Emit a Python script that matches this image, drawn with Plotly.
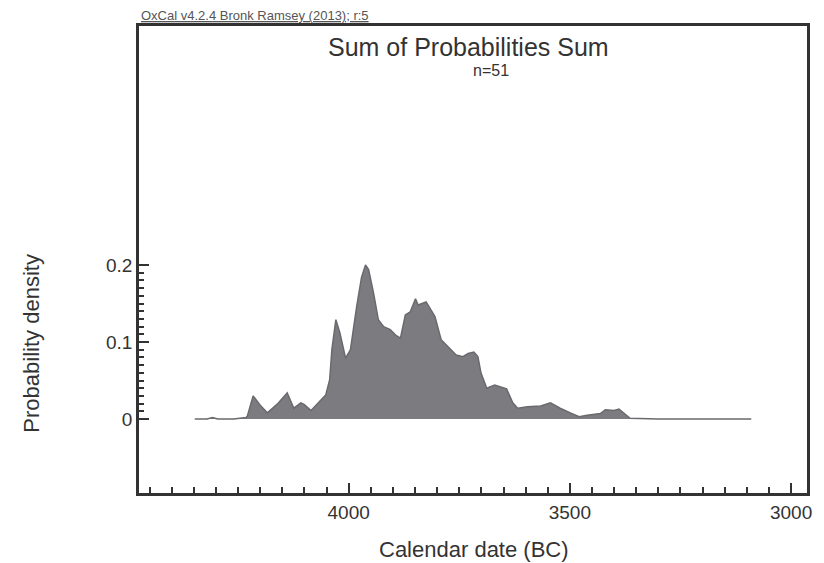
import plotly.graph_objects as go

# Calendar years (BC) and summed probability density
years = [4348, 4320, 4308, 4296, 4260, 4240, 4232, 4229, 4216, 4200, 4184, 4160,
         4139, 4124, 4108, 4101, 4085, 4067, 4052, 4043, 4038, 4029, 4020, 4007,
         3996, 3982, 3971, 3962, 3955, 3944, 3933, 3921, 3906, 3894, 3883, 3872,
         3861, 3849, 3843, 3825, 3805, 3791, 3775, 3757, 3742, 3730, 3717, 3708,
         3701, 3688, 3670, 3656, 3643, 3629, 3618, 3596, 3566, 3544, 3522, 3499,
         3479, 3461, 3431, 3420, 3400, 3389, 3378, 3364, 3300, 3200, 3090]
density = [0.000, 0.000, 0.002, 0.000, 0.000, 0.001, 0.002, 0.004, 0.030, 0.018, 0.008, 0.020,
           0.034, 0.014, 0.021, 0.019, 0.011, 0.022, 0.031, 0.051, 0.090, 0.129, 0.112, 0.079,
           0.090, 0.146, 0.184, 0.200, 0.194, 0.164, 0.129, 0.120, 0.116, 0.109, 0.105, 0.135,
           0.139, 0.156, 0.148, 0.152, 0.133, 0.103, 0.094, 0.083, 0.081, 0.085, 0.087, 0.081,
           0.060, 0.040, 0.044, 0.041, 0.039, 0.021, 0.014, 0.016, 0.017, 0.021, 0.014, 0.008,
           0.003, 0.005, 0.007, 0.012, 0.011, 0.013, 0.008, 0.001, 0.000, 0.000, 0.000]

x_ticks = [4000, 3500, 3000]
x_minor = list(range(4450, 2999, -50))
y_ticks = [0, 0.1, 0.2]
y_tick_labels = ["0", "0.1", "0.2"]
y_minor = [round(i * 0.01, 2) for i in range(21)]

title_text = "Sum of Probabilities Sum"
subtitle_text = "n=51"
credit_text = "OxCal v4.2.4 Bronk Ramsey (2013); r:5"
x_title = "Calendar date (BC)"
y_title = "Probability density"

X_RANGE = [4474, 2964]
Y_RANGE = [-0.0961, 0.5104]
FONT = "Liberation Sans, Arial, sans-serif"
INK = "#333333"

fig = go.Figure()
fig.add_trace(go.Scatter(
    x=years, y=density, mode="lines", fill="tozeroy",
    fillcolor="#7b7b80", line=dict(color="#6a6a6e", width=1.5),
    hoverinfo="skip", showlegend=False,
))
# invisible helper trace so the overlay axes (minor ticks) are drawn
fig.add_trace(go.Scatter(x=[X_RANGE[0]], y=[0], xaxis="x2", yaxis="y2",
                         mode="markers", marker=dict(opacity=0),
                         hoverinfo="skip", showlegend=False))

tick_font = dict(family=FONT, size=19, color=INK)

fig.update_layout(
    width=824, height=563,
    margin=dict(l=139, r=13, t=26, b=70),
    paper_bgcolor="white", plot_bgcolor="white",
    font=dict(family=FONT, color=INK),
    showlegend=False,
    xaxis=dict(
        range=X_RANGE, showgrid=False, zeroline=False,
        showline=True, mirror=True, linecolor=INK, linewidth=2.5,
        tickmode="array", tickvals=x_ticks, ticktext=[str(v) for v in x_ticks],
        ticks="inside", ticklen=10, tickwidth=1.5, tickcolor=INK,
        tickfont=tick_font,
    ),
    yaxis=dict(
        range=Y_RANGE, showgrid=False, zeroline=False,
        showline=True, mirror=True, linecolor=INK, linewidth=2.5,
        tickmode="array", tickvals=y_ticks, ticktext=y_tick_labels,
        ticks="inside", ticklen=10, tickwidth=1.5, tickcolor=INK,
        tickfont=tick_font,
    ),
    xaxis2=dict(
        range=X_RANGE, overlaying="x", side="bottom", anchor="y",
        showgrid=False, zeroline=False, showline=False,
        tickmode="array", tickvals=x_minor, showticklabels=False,
        ticks="inside", ticklen=6, tickwidth=1.5, tickcolor=INK,
    ),
    yaxis2=dict(
        range=Y_RANGE, overlaying="y", side="left", anchor="x",
        showgrid=False, zeroline=False, showline=False,
        tickmode="array", tickvals=y_minor, showticklabels=False,
        ticks="inside", ticklen=5, tickwidth=1.5, tickcolor=INK,
    ),
    annotations=[
        dict(text=title_text, x=(470 - 139) / 672, y=(493 - 47) / 467,
             xref="paper", yref="paper", xanchor="center", yanchor="middle",
             showarrow=False, font=dict(size=25, color=INK)),
        dict(text=subtitle_text, x=(493 - 139) / 672, y=(493 - 71) / 467,
             xref="paper", yref="paper", xanchor="center", yanchor="middle",
             showarrow=False, font=dict(size=16, color=INK)),
        dict(text="<u>" + credit_text + "</u>", x=0.0, y=1.0, xref="paper", yref="paper",
             xanchor="left", yanchor="bottom", yshift=1, showarrow=False,
             font=dict(size=13, color="#555555")),
        dict(text=y_title, x=(30 - 139) / 672, y=(493 - 343) / 467,
             xref="paper", yref="paper", xanchor="center", yanchor="middle",
             showarrow=False, textangle=-90, font=dict(size=22, color=INK)),
        dict(text=x_title, x=(476 - 139) / 672, y=(493 - 549) / 467,
             xref="paper", yref="paper", xanchor="center", yanchor="middle",
             showarrow=False, font=dict(size=22, color=INK)),
    ],
)

fig.write_html("out.html")
